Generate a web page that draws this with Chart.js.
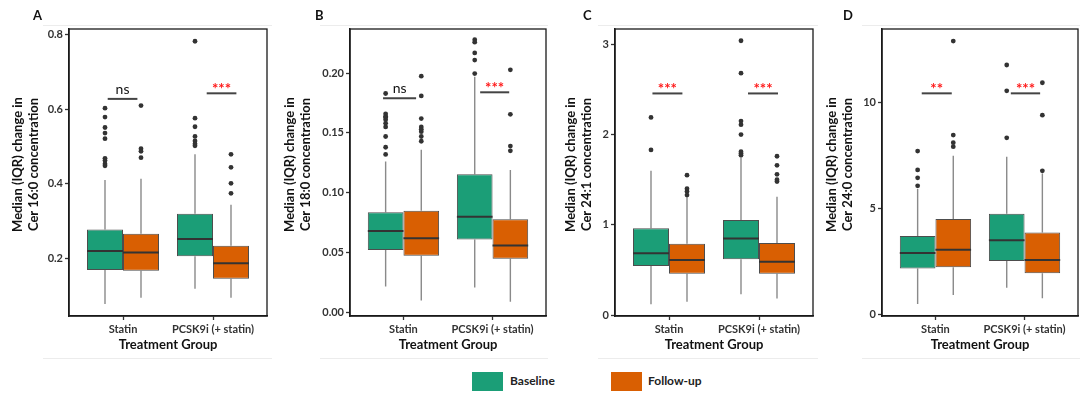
<!DOCTYPE html>
<html>
<head>
<meta charset="utf-8">
<script src="https://cdn.jsdelivr.net/npm/chart.js@4.4.0/dist/chart.umd.min.js"></script>
<style>
  body { margin: 0; background: #fff; width: 1080px; height: 397px; position: relative; overflow: hidden; font-family: Lato, sans-serif; }
  canvas { position: absolute; top: 0; }
  .frame { position: absolute; top: 25px; height: 332px; border-top: 1px solid #ececec; border-bottom: 1px solid #ececec; }
  .tag { position: absolute; top: 7px; font: bold 13px Lato, sans-serif; color: #111; line-height: 16px; }
  .sw { position: absolute; top: 372px; width: 31px; height: 19px; }
  .lbl { position: absolute; top: 373px; font: bold 12px Lato, sans-serif; color: #222; line-height: 16px; }
</style>
</head>
<body>
<div class="frame" style="left:43px;width:229px"></div>
<div class="frame" style="left:320px;width:228px"></div>
<div class="frame" style="left:598px;width:220px"></div>
<div class="frame" style="left:862px;width:218px"></div>

<canvas id="chartA" width="271" height="360" style="left:0px"></canvas>
<canvas id="chartB" width="278" height="360" style="left:272px"></canvas>
<canvas id="chartC" width="265" height="360" style="left:553px"></canvas>
<canvas id="chartD" width="268" height="360" style="left:814px"></canvas>

<div class="tag" style="left:33px">A</div>
<div class="tag" style="left:315px">B</div>
<div class="tag" style="left:583px">C</div>
<div class="tag" style="left:843px">D</div>

<div class="sw" style="left:472px;background:#1b9e77"></div>
<div class="lbl" style="left:510px">Baseline</div>
<div class="sw" style="left:611px;background:#d95f02"></div>
<div class="lbl" style="left:648px">Follow-up</div>

<script>
// categories and series
const groups = ['Statin', 'PCSK9i (+ statin)'];
const seriesNames = ['Baseline', 'Follow-up'];
const seriesColors = ['#1b9e77', '#d95f02'];

// box summaries per group: [lower whisker, Q1, median, Q3, upper whisker]
// A - Cer 16:0
const cer160Baseline = [[0.076, 0.168, 0.219, 0.277, 0.410], [0.117, 0.205, 0.251, 0.319, 0.479]];
const cer160FollowUp = [[0.093, 0.166, 0.215, 0.265, 0.413], [0.093, 0.144, 0.186, 0.233, 0.343]];
const cer160BaselineOut = [[0.603, 0.579, 0.551, 0.536, 0.521, 0.468, 0.462, 0.453, 0.448], [0.783, 0.576, 0.553, 0.527, 0.515, 0.507, 0.502]];
const cer160FollowUpOut = [[0.610, 0.494, 0.487, 0.470], [0.479, 0.444, 0.401, 0.374]];
const cer160Ticks = [0.2, 0.4, 0.6, 0.8];
const cer160TickLabels = ['0.2', '0.4', '0.6', '0.8'];

// B - Cer 18:0
const cer180Baseline = [[0.0214, 0.052, 0.0678, 0.0836, 0.126], [0.0206, 0.0608, 0.0797, 0.1153, 0.197]];
const cer180FollowUp = [[0.0097, 0.0472, 0.0617, 0.0848, 0.136], [0.0086, 0.0447, 0.0558, 0.0778, 0.119]];
const cer180BaselineOut = [[0.183, 0.166, 0.164, 0.163, 0.161, 0.158, 0.155, 0.147, 0.138, 0.132], [0.228, 0.226, 0.217, 0.211, 0.1997]];
const cer180FollowUpOut = [[0.1975, 0.181, 0.162, 0.155, 0.153, 0.151, 0.147, 0.143], [0.2028, 0.1656, 0.139, 0.135]];
const cer180Ticks = [0, 0.05, 0.10, 0.15, 0.20];
const cer180TickLabels = ['0.00', '0.05', '0.10', '0.15', '0.20'];

// C - Cer 24:1
const cer241Baseline = [[0.12, 0.544, 0.686, 0.963, 1.60], [0.23, 0.618, 0.848, 1.055, 1.74]];
const cer241FollowUp = [[0.147, 0.457, 0.611, 0.79, 1.307], [0.185, 0.457, 0.592, 0.80, 1.31]];
const cer241BaselineOut = [[2.19, 1.83], [3.04, 2.68, 2.15, 2.11, 2.0, 1.81, 1.79, 1.77]];
const cer241FollowUpOut = [[1.55, 1.40, 1.37, 1.33], [1.76, 1.66, 1.56, 1.50, 1.48]];
const cer241Ticks = [0, 1, 2, 3];
const cer241TickLabels = ['0', '1', '2', '3'];

// D - Cer 24:0
const cer240Baseline = [[0.49, 2.17, 2.90, 3.70, 5.92], [1.26, 2.52, 3.50, 4.75, 7.44]];
const cer240FollowUp = [[0.91, 2.22, 3.05, 4.50, 7.49], [0.76, 1.94, 2.57, 3.87, 6.65]];
const cer240BaselineOut = [[7.71, 6.82, 6.45, 6.07], [11.78, 10.56, 8.34]];
const cer240FollowUpOut = [[12.91, 8.47, 8.11, 7.92], [10.94, 9.41, 6.78]];
const cer240Ticks = [0, 5, 10];
const cer240TickLabels = ['0', '5', '10'];

// significance brackets (x in group units)
const cer160Sig = [{ from: 0.83, to: 1.16, y: 0.628, text: 'ns' }, { from: 1.93, to: 2.26, y: 0.643, text: '***' }];
const cer180Sig = [{ from: 0.771, to: 1.142, y: 0.179, text: 'ns' }, { from: 1.861, to: 2.187, y: 0.184, text: '***' }];
const cer241Sig = [{ from: 0.816, to: 1.149, y: 2.456, text: '***' }, { from: 1.878, to: 2.211, y: 2.456, text: '***' }];
const cer240Sig = [{ from: 0.846, to: 1.183, y: 10.44, text: '**' }, { from: 1.846, to: 2.175, y: 10.44, text: '***' }];

const boxShare = 0.8; // categoryPercentage of the pair of boxes
const dodge = boxShare / 4;

// whiskers, medians, brackets, y title and panel border
function makeExtras(cfg) {
    return {
        id: 'boxExtras',
        beforeDatasetsDraw(chart) {
            const { ctx, scales: { y } } = chart;
            ctx.save();
            ctx.strokeStyle = '#8a8a8a';
            ctx.lineWidth = 1.4;
            [cfg.baseline, cfg.followUp].forEach((boxes, d) => {
                const meta = chart.getDatasetMeta(d);
                boxes.forEach((s, i) => {
                    const x = meta.data[i].x;
                    ctx.beginPath();
                    ctx.moveTo(x, y.getPixelForValue(s[0]));
                    ctx.lineTo(x, y.getPixelForValue(s[1]));
                    ctx.moveTo(x, y.getPixelForValue(s[3]));
                    ctx.lineTo(x, y.getPixelForValue(s[4]));
                    ctx.stroke();
                });
            });
            ctx.restore();
        },
        afterDatasetsDraw(chart) {
            const { ctx, chartArea, scales: { x, y } } = chart;
            ctx.save();
            // medians
            ctx.strokeStyle = '#333';
            ctx.lineWidth = 2;
            [cfg.baseline, cfg.followUp].forEach((boxes, d) => {
                const meta = chart.getDatasetMeta(d);
                boxes.forEach((s, i) => {
                    const bar = meta.data[i];
                    const py = y.getPixelForValue(s[2]);
                    ctx.beginPath();
                    ctx.moveTo(bar.x - bar.width / 2, py);
                    ctx.lineTo(bar.x + bar.width / 2, py);
                    ctx.stroke();
                });
            });
            // brackets
            cfg.sig.forEach(b => {
                const x0 = x.getPixelForValue(b.from);
                const x1 = x.getPixelForValue(b.to);
                const py = y.getPixelForValue(b.y);
                ctx.strokeStyle = '#444';
                ctx.lineWidth = 2;
                ctx.beginPath();
                ctx.moveTo(x0, py);
                ctx.lineTo(x1, py);
                ctx.stroke();
                ctx.textAlign = 'center';
                ctx.textBaseline = 'alphabetic';
                if (b.text === 'ns') {
                    ctx.fillStyle = '#111';
                    ctx.font = '14px Lato';
                    ctx.fillText(b.text, (x0 + x1) / 2, py - 5);
                } else {
                    ctx.fillStyle = '#ff1a1a';
                    ctx.font = 'bold 15px Lato';
                    ctx.fillText(b.text, (x0 + x1) / 2, py + 1);
                }
            });
            // panel border
            ctx.strokeStyle = '#1a1a1a';
            ctx.lineWidth = 1.3;
            ctx.strokeRect(chartArea.left, chartArea.top, chartArea.right - chartArea.left, chartArea.bottom - chartArea.top);
            // y axis title, two lines, rotated
            const cy = (chartArea.top + chartArea.bottom) / 2 - 8;
            ctx.fillStyle = '#111';
            ctx.font = 'bold 13px Lato';
            ctx.textAlign = 'center';
            ctx.textBaseline = 'middle';
            ['Median (IQR) change in', cfg.lipid + ' concentration'].forEach((line, k) => {
                ctx.save();
                ctx.translate(17.5 + k * 16.5, cy);
                ctx.rotate(-Math.PI / 2);
                ctx.fillText(line, 0, 0);
                ctx.restore();
            });
            ctx.restore();
        }
    };
}

function outlierPoints(lists, side) {
    return lists.flatMap((vals, i) => vals.map(v => ({ x: i + 1 + side * dodge, y: v })));
}

function makePanel(cfg) {
    const ctx = document.getElementById(cfg.id).getContext('2d');
    const tickFont = { family: 'Lato', size: 11, weight: 'bold' };
    return new Chart(ctx, {
        type: 'bar',
        data: {
            datasets: [
                {
                    type: 'bar',
                    label: seriesNames[0],
                    data: cfg.baseline.map((s, i) => ({ x: i + 1, y: [s[1], s[3]] })),
                    backgroundColor: seriesColors[0],
                    borderColor: '#4d4d4d',
                    borderWidth: 1,
                    borderSkipped: false,
                    categoryPercentage: boxShare,
                    barPercentage: 1
                },
                {
                    type: 'bar',
                    label: seriesNames[1],
                    data: cfg.followUp.map((s, i) => ({ x: i + 1, y: [s[1], s[3]] })),
                    backgroundColor: seriesColors[1],
                    borderColor: '#4d4d4d',
                    borderWidth: 1,
                    borderSkipped: false,
                    categoryPercentage: boxShare,
                    barPercentage: 1
                },
                {
                    type: 'scatter',
                    data: outlierPoints(cfg.baselineOut, -1),
                    pointRadius: 2.4,
                    pointBackgroundColor: '#333',
                    pointBorderWidth: 0
                },
                {
                    type: 'scatter',
                    data: outlierPoints(cfg.followUpOut, 1),
                    pointRadius: 2.4,
                    pointBackgroundColor: '#333',
                    pointBorderWidth: 0
                }
            ]
        },
        options: {
            responsive: false,
            animation: false,
            layout: { padding: { top: 29, right: cfg.rightPad, left: 0, bottom: 0 } },
            plugins: { legend: { display: false }, tooltip: { enabled: false } },
            scales: {
                x: {
                    type: 'linear',
                    min: 0.4,
                    max: 2.6,
                    offset: false,
                    grid: { offset: false, drawOnChartArea: false, drawTicks: true, tickLength: 4, tickColor: '#333', tickWidth: 1.3 },
                    border: { display: true, color: '#1a1a1a', width: 1.5 },
                    afterBuildTicks: axis => { axis.ticks = groups.map((g, i) => ({ value: i + 1 })); },
                    afterFit: axis => { axis.height = 44; },
                    ticks: {
                        autoSkip: false,
                        maxRotation: 0,
                        padding: 3,
                        color: '#333',
                        font: tickFont,
                        callback: (value, index) => groups[index]
                    },
                    title: {
                        display: true,
                        text: 'Treatment Group',
                        color: '#111',
                        font: { family: 'Lato', size: 13, weight: 'bold' },
                        padding: { top: 0, bottom: 7 }
                    }
                },
                y: {
                    type: 'linear',
                    min: cfg.yMin,
                    max: cfg.yMax,
                    beginAtZero: false,
                    grid: { drawOnChartArea: false, drawTicks: true, tickLength: 4, tickColor: '#333', tickWidth: 1.3 },
                    border: { display: true, color: '#1a1a1a', width: 1.5 },
                    afterBuildTicks: axis => { axis.ticks = cfg.ticks.map(v => ({ value: v })); },
                    afterFit: axis => { axis.width = cfg.yAxisWidth; },
                    ticks: {
                        padding: 2,
                        color: '#333',
                        font: tickFont,
                        callback: (value, index) => cfg.tickLabels[index]
                    },
                    title: { display: false }
                }
            }
        },
        plugins: [makeExtras(cfg)]
    });
}

makePanel({
    id: 'chartA', lipid: 'Cer 16:0', yAxisWidth: 69, rightPad: 4, yMin: 0.044, yMax: 0.816,
    baseline: cer160Baseline, followUp: cer160FollowUp,
    baselineOut: cer160BaselineOut, followUpOut: cer160FollowUpOut,
    ticks: cer160Ticks, tickLabels: cer160TickLabels, sig: cer160Sig
});
makePanel({
    id: 'chartB', lipid: 'Cer 18:0', yAxisWidth: 78, rightPad: 4, yMin: -0.0033, yMax: 0.237,
    baseline: cer180Baseline, followUp: cer180FollowUp,
    baselineOut: cer180BaselineOut, followUpOut: cer180FollowUpOut,
    ticks: cer180Ticks, tickLabels: cer180TickLabels, sig: cer180Sig
});
makePanel({
    id: 'chartC', lipid: 'Cer 24:1', yAxisWidth: 62, rightPad: 5, yMin: -0.01, yMax: 3.17,
    baseline: cer241Baseline, followUp: cer241FollowUp,
    baselineOut: cer241BaselineOut, followUpOut: cer241FollowUpOut,
    ticks: cer241Ticks, tickLabels: cer241TickLabels, sig: cer241Sig
});
makePanel({
    id: 'chartD', lipid: 'Cer 24:0', yAxisWidth: 68, rightPad: 4, yMin: -0.08, yMax: 13.48,
    baseline: cer240Baseline, followUp: cer240FollowUp,
    baselineOut: cer240BaselineOut, followUpOut: cer240FollowUpOut,
    ticks: cer240Ticks, tickLabels: cer240TickLabels, sig: cer240Sig
});
</script>
</body>
</html>
